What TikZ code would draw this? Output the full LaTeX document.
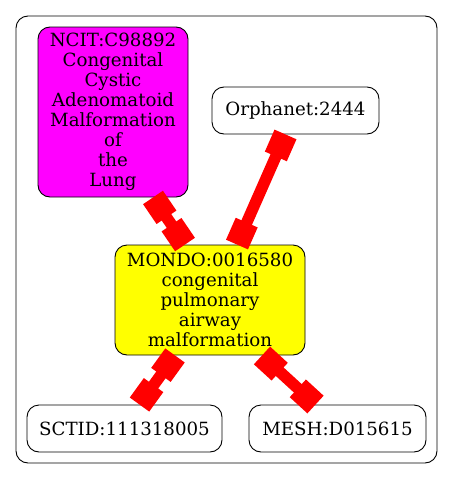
\documentclass[tikz,border=0pt]{standalone}
\usepackage{fontspec}
\setmainfont{DejaVu Serif}
\usepackage{tikz}
\usetikzlibrary{positioning,calc,arrows.meta}

\definecolor{ncitfill}{RGB}{255,0,255}
\definecolor{mondofill}{RGB}{255,255,0}
\definecolor{linkred}{RGB}{255,0,0}

\tikzset{
    term/.style={draw=black, line width=0.9pt, rounded corners=12pt, align=center, inner sep=0pt,
        font=\fontsize{18.2}{20}\selectfont},
    link/.style={draw=linkred, line width=11.5pt, {Square[length=24pt]}-{Square[length=24pt]}}
}

\begin{document}
\begin{tikzpicture}[x=1pt,y=-1pt]
                    \useasboundingbox (0,0) rectangle (453,479);
                    \draw[line width=0.9pt, rounded corners=12pt] (16,16) rectangle (437,463);
                    \node[term, fill=ncitfill, minimum width=150pt, minimum height=170pt] (ncit) at (113,112)
                        {NCIT:C98892\\Congenital\\Cystic\\Adenomatoid\\Malformation\\of\\the\\Lung};
                    \node[term, fill=white, minimum width=167pt, minimum height=47pt] (orpha) at (295.5,110.5) {Orphanet:2444};
                    \node[term, fill=mondofill, minimum width=190pt, minimum height=110pt] (mondo) at (210,300)
                        {MONDO:0016580\\congenital\\pulmonary\\airway\\malformation};
                    \node[term, fill=white, minimum width=195pt, minimum height=47pt] (sctid) at (124.5,428.5) {SCTID:111318005};
                    \node[term, fill=white, minimum width=177pt, minimum height=47pt] (mesh) at (337.5,428.5) {MESH:D015615};
                    \draw[link] ([xshift=40pt]ncit.south) -- ([xshift=-25pt]mondo.north);
                    \draw[link] ([xshift=-10pt]orpha.south) -- ([xshift=27pt]mondo.north);
                    \draw[link] ([xshift=-35pt]mondo.south) -- ([xshift=15pt]sctid.north);
                    \draw[link] ([xshift=52pt]mondo.south) -- ([xshift=-22pt]mesh.north);
                \end{tikzpicture}
\end{document}
